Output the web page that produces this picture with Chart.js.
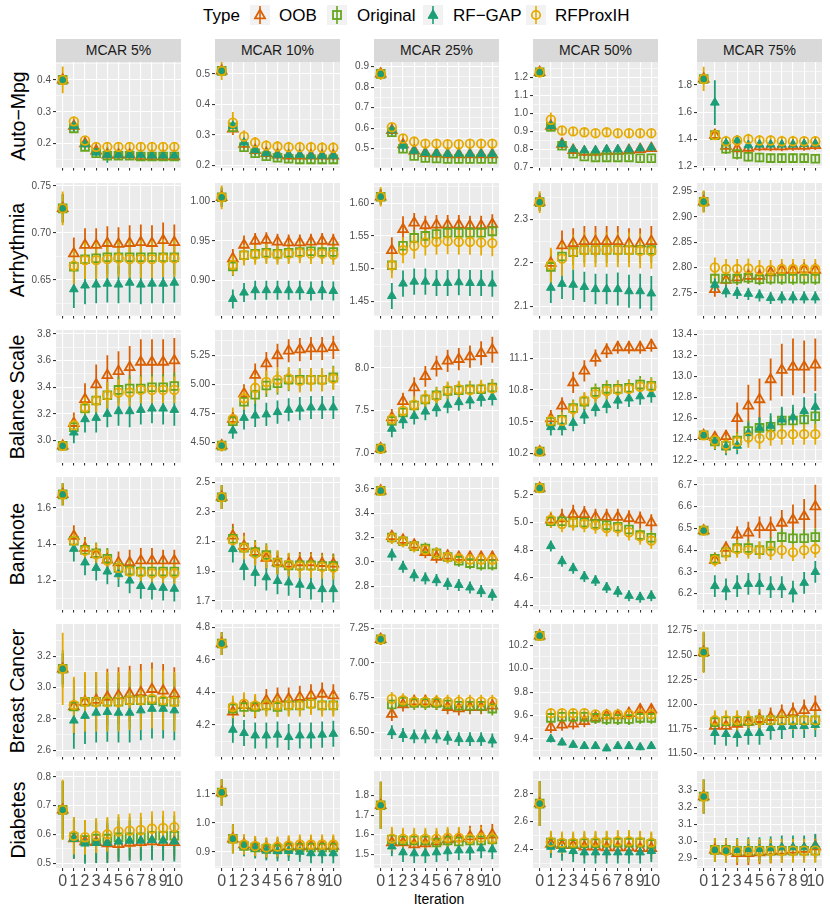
<!DOCTYPE html>
<html>
<head>
<meta charset="utf-8">
<title>Imputation error by iteration</title>
<script src="https://cdn.jsdelivr.net/npm/chart.js@4.4.1/dist/chart.umd.min.js"></script>
<style>
  body { margin: 0; background: #fff; font-family: "Liberation Sans", Arial, sans-serif; }
  #fig { position: relative; width: 830px; height: 913px; overflow: hidden; background: #fff; }
  #fig canvas { position: absolute; }
  .strip { position: absolute; top: 39px; height: 23px; line-height: 23px; background: #D9D9D9; color: #1A1A1A; font-size: 14px; text-align: center; }
  .rowlab { position: absolute; height: 24px; line-height: 24px; font-size: 19.5px; color: #000; text-align: center; white-space: nowrap; transform: rotate(-90deg); }
  .leg { position: absolute; top: 5px; line-height: 21px; font-size: 17px; color: #000; white-space: nowrap; }
  .key { position: absolute; top: 5px; }
  #xtitle { position: absolute; top: 891px; left: 0; width: 878px; text-align: center; font-size: 14px; color: #000; }
</style>
</head>
<body>
<div id="fig">
  <div class="leg" style="left:203px">Type</div>
  <div id="xtitle">Iteration</div>
</div>
<script>
const iterations = [0, 1, 2, 3, 4, 5, 6, 7, 8, 9, 10];
const mcarLevels = ["MCAR 5%", "MCAR 10%", "MCAR 25%", "MCAR 50%", "MCAR 75%"];
const datasetNames = ["Auto\u2212Mpg", "Arrhythmia", "Balance Scale", "Banknote", "Breast Cancer", "Diabetes"];
const seriesNames = ["OOB", "Original", "RF\u2212GAP", "RFProxIH"];

// y tick labels and limits, one entry per MCAR panel
const autoMpgTicks = [["0.2","0.3","0.4"], ["0.2","0.3","0.4","0.5"], ["0.5","0.6","0.7","0.8","0.9"], ["0.7","0.8","0.9","1.0","1.1","1.2"], ["1.2","1.4","1.6","1.8"]];
const autoMpgLimits = [[0.125,0.456], [0.193,0.539], [0.408,0.923], [0.698,1.287], [1.19,1.97]];
const arrhythmiaTicks = [["0.65","0.70","0.75"], ["0.90","0.95","1.00"], ["1.45","1.50","1.55","1.60"], ["2.1","2.2","2.3"], ["2.75","2.80","2.85","2.90","2.95"]];
const arrhythmiaLimits = [[0.612,0.753], [0.856,1.023], [1.428,1.631], [2.079,2.384], [2.705,2.967]];
const balanceTicks = [["3.0","3.2","3.4","3.6","3.8"], ["4.50","4.75","5.00","5.25"], ["7.0","7.5","8.0"], ["10.2","10.5","10.8","11.1"], ["12.2","12.4","12.6","12.8","13.0","13.2","13.4"]];
const balanceLimits = [[2.834,3.83], [4.323,5.47], [6.896,8.44], [10.116,11.364], [12.18,13.44]];
const banknoteTicks = [["1.2","1.4","1.6"], ["1.7","1.9","2.1","2.3","2.5"], ["2.8","3.0","3.2","3.4","3.6"], ["4.4","4.6","4.8","5.0","5.2"], ["6.2","6.3","6.4","6.5","6.6","6.7"]];
const banknoteLimits = [[1.04,1.771], [1.642,2.536], [2.608,3.698], [4.37,5.33], [6.127,6.736]];
const breastTicks = [["2.6","2.8","3.0","3.2"], ["4.2","4.4","4.6","4.8"], ["6.50","6.75","7.00","7.25"], ["9.4","9.6","9.8","10.0","10.2"], ["11.50","11.75","12.00","12.25","12.50","12.75"]];
const breastLimits = [[2.56,3.406], [4.005,4.82], [6.324,7.28], [9.25,10.38], [11.47,12.817]];
const diabetesTicks = [["0.5","0.6","0.7","0.8"], ["0.9","1.0","1.1"], ["1.5","1.6","1.7","1.8"], ["2.4","2.6","2.8"], ["2.9","3.0","3.1","3.2","3.3"]];
const diabetesLimits = [[0.483,0.82], [0.844,1.179], [1.43,1.925], [2.268,2.964], [2.843,3.416]];

// ---- Auto-Mpg: means then half-widths of the bars
const autoMpgOOB = [
  [0.40,0.255,0.20,0.178,0.165,0.165,0.165,0.160,0.160,0.160,0.160],
  [0.51,0.32,0.27,0.25,0.24,0.235,0.232,0.232,0.232,0.232,0.232],
  [0.865,0.59,0.52,0.49,0.478,0.475,0.472,0.472,0.472,0.472,0.472],
  [1.23,0.93,0.83,0.795,0.785,0.785,0.79,0.79,0.795,0.80,0.805],
  [1.845,1.43,1.35,1.33,1.335,1.345,1.345,1.345,1.35,1.35,1.355]];
const autoMpgOriginal = [
  [0.40,0.248,0.19,0.17,0.162,0.162,0.162,0.16,0.16,0.16,0.16],
  [0.51,0.325,0.26,0.24,0.23,0.225,0.222,0.22,0.22,0.22,0.22],
  [0.865,0.58,0.50,0.465,0.455,0.452,0.45,0.45,0.45,0.45,0.45],
  [1.23,0.925,0.82,0.775,0.76,0.755,0.755,0.755,0.755,0.75,0.75],
  [1.845,1.43,1.33,1.29,1.27,1.265,1.26,1.26,1.26,1.26,1.255]];
const autoMpgRFGAP = [
  [0.40,0.255,0.198,0.172,0.165,0.165,0.165,0.165,0.163,0.163,0.163],
  [0.51,0.33,0.275,0.25,0.24,0.235,0.235,0.235,0.232,0.232,0.232],
  [0.865,0.59,0.515,0.49,0.48,0.478,0.475,0.475,0.475,0.475,0.475],
  [1.23,0.93,0.83,0.80,0.795,0.795,0.80,0.80,0.80,0.805,0.81],
  [1.845,1.67,1.37,1.39,1.355,1.36,1.36,1.36,1.36,1.365,1.365]];
const autoMpgRFProxIH = [
  [0.40,0.27,0.21,0.19,0.19,0.19,0.19,0.19,0.19,0.19,0.19],
  [0.51,0.34,0.295,0.275,0.265,0.262,0.26,0.26,0.26,0.258,0.258],
  [0.865,0.605,0.55,0.535,0.525,0.525,0.522,0.522,0.525,0.525,0.525],
  [1.23,0.965,0.905,0.90,0.895,0.89,0.895,0.89,0.89,0.89,0.89],
  [1.845,1.43,1.385,1.39,1.40,1.39,1.39,1.385,1.385,1.385,1.385]];
const autoMpgOOBErr = [
  [0.012,0.015,0.012,0.01,0.01,0.01,0.01,0.01,0.01,0.01,0.01],
  [0.015,0.02,0.015,0.013,0.013,0.013,0.013,0.013,0.013,0.013,0.013],
  [0.015,0.02,0.02,0.02,0.02,0.02,0.02,0.02,0.02,0.02,0.02],
  [0.02,0.025,0.02,0.02,0.02,0.02,0.02,0.02,0.02,0.02,0.02],
  [0.04,0.03,0.035,0.04,0.04,0.035,0.035,0.035,0.035,0.035,0.035]];
const autoMpgOriginalErr = [
  [0.012,0.012,0.012,0.01,0.01,0.01,0.01,0.01,0.01,0.01,0.01],
  [0.015,0.015,0.012,0.012,0.012,0.012,0.012,0.012,0.012,0.012,0.012],
  [0.015,0.015,0.02,0.02,0.02,0.02,0.02,0.02,0.02,0.02,0.02],
  [0.02,0.02,0.02,0.015,0.015,0.015,0.015,0.015,0.015,0.015,0.015],
  [0.04,0.03,0.04,0.04,0.035,0.035,0.035,0.035,0.035,0.03,0.03]];
const autoMpgRFGAPErr = [
  [0.012,0.015,0.012,0.012,0.025,0.015,0.015,0.015,0.012,0.012,0.012],
  [0.015,0.02,0.015,0.015,0.015,0.015,0.015,0.015,0.015,0.015,0.015],
  [0.015,0.02,0.02,0.02,0.02,0.02,0.02,0.02,0.02,0.02,0.02],
  [0.02,0.025,0.02,0.02,0.02,0.02,0.02,0.02,0.02,0.02,0.02],
  [0.04,0.165,0.04,0.04,0.04,0.035,0.035,0.035,0.035,0.035,0.035]];
const autoMpgRFProxIHErr = [
  [0.042,0.015,0.012,0.012,0.012,0.012,0.012,0.012,0.012,0.012,0.012],
  [0.03,0.035,0.02,0.018,0.018,0.018,0.018,0.018,0.018,0.018,0.018],
  [0.03,0.02,0.02,0.02,0.02,0.02,0.02,0.02,0.02,0.02,0.02],
  [0.03,0.04,0.025,0.02,0.02,0.02,0.02,0.02,0.02,0.02,0.02],
  [0.09,0.03,0.04,0.04,0.04,0.04,0.04,0.04,0.04,0.035,0.035]];

// ---- Arrhythmia
const arrhythmiaOOB = [
  [0.726,0.678,0.687,0.687,0.689,0.688,0.689,0.690,0.689,0.692,0.690],
  [1.005,0.928,0.945,0.950,0.951,0.949,0.948,0.948,0.949,0.950,0.949],
  [1.610,1.528,1.560,1.570,1.566,1.567,1.567,1.567,1.566,1.566,1.568],
  [2.340,2.200,2.240,2.245,2.250,2.250,2.250,2.250,2.245,2.245,2.250],
  [2.930,2.757,2.775,2.780,2.783,2.783,2.790,2.795,2.795,2.796,2.795]];
const arrhythmiaOriginal = [
  [0.726,0.664,0.672,0.673,0.674,0.674,0.674,0.674,0.674,0.674,0.674],
  [1.005,0.918,0.932,0.934,0.935,0.934,0.935,0.936,0.937,0.936,0.936],
  [1.610,1.505,1.535,1.547,1.550,1.553,1.555,1.555,1.555,1.555,1.557],
  [2.340,2.191,2.215,2.225,2.230,2.230,2.230,2.230,2.230,2.230,2.230],
  [2.930,2.778,2.778,2.778,2.780,2.777,2.778,2.778,2.778,2.778,2.778]];
const arrhythmiaRFGAP = [
  [0.726,0.640,0.644,0.645,0.646,0.645,0.647,0.645,0.646,0.646,0.647],
  [1.005,0.877,0.885,0.888,0.888,0.888,0.888,0.888,0.887,0.888,0.887],
  [1.610,1.458,1.477,1.480,1.480,1.478,1.478,1.479,1.478,1.478,1.477],
  [2.340,2.143,2.152,2.150,2.145,2.140,2.140,2.140,2.135,2.135,2.130],
  [2.930,2.766,2.753,2.750,2.748,2.745,2.740,2.741,2.741,2.741,2.741]];
const arrhythmiaRFProxIH = [
  [0.726,0.665,0.671,0.671,0.672,0.673,0.672,0.672,0.672,0.673,0.673],
  [1.005,0.920,0.932,0.933,0.934,0.933,0.934,0.935,0.934,0.934,0.933],
  [1.610,1.505,1.528,1.535,1.540,1.541,1.542,1.541,1.541,1.540,1.539],
  [2.340,2.195,2.210,2.225,2.230,2.230,2.230,2.230,2.230,2.228,2.227],
  [2.930,2.800,2.797,2.797,2.798,2.795,2.795,2.797,2.797,2.797,2.797]];
const arrhythmiaOOBErr = [
  [0.015,0.017,0.018,0.018,0.018,0.018,0.019,0.019,0.019,0.019,0.019],
  [0.012,0.012,0.012,0.01,0.01,0.01,0.01,0.01,0.01,0.01,0.01],
  [0.012,0.02,0.02,0.015,0.015,0.015,0.015,0.015,0.015,0.015,0.015],
  [0.02,0.03,0.035,0.035,0.035,0.035,0.035,0.035,0.035,0.035,0.035],
  [0.02,0.015,0.015,0.015,0.015,0.015,0.015,0.015,0.015,0.015,0.015]];
const arrhythmiaOriginalErr = [
  [0.015,0.018,0.018,0.018,0.018,0.018,0.018,0.018,0.018,0.018,0.018],
  [0.012,0.012,0.012,0.012,0.012,0.012,0.012,0.012,0.012,0.012,0.012],
  [0.012,0.012,0.012,0.012,0.012,0.012,0.012,0.012,0.012,0.012,0.012],
  [0.02,0.03,0.03,0.03,0.03,0.03,0.03,0.03,0.03,0.03,0.03],
  [0.02,0.012,0.012,0.012,0.012,0.012,0.012,0.012,0.012,0.012,0.012]];
const arrhythmiaRFGAPErr = [
  [0.015,0.02,0.02,0.02,0.02,0.02,0.021,0.021,0.021,0.021,0.021],
  [0.012,0.012,0.012,0.012,0.012,0.012,0.012,0.012,0.012,0.012,0.012],
  [0.012,0.02,0.02,0.02,0.02,0.02,0.02,0.02,0.02,0.02,0.02],
  [0.02,0.035,0.035,0.035,0.035,0.035,0.035,0.038,0.038,0.04,0.04],
  [0.02,0.012,0.012,0.012,0.012,0.012,0.012,0.012,0.012,0.012,0.012]];
const arrhythmiaRFProxIHErr = [
  [0.018,0.02,0.02,0.02,0.02,0.02,0.02,0.02,0.02,0.02,0.02],
  [0.015,0.013,0.013,0.013,0.013,0.013,0.013,0.013,0.013,0.013,0.013],
  [0.015,0.02,0.02,0.02,0.02,0.02,0.02,0.02,0.02,0.02,0.02],
  [0.025,0.04,0.04,0.04,0.04,0.04,0.04,0.04,0.04,0.04,0.04],
  [0.022,0.02,0.02,0.02,0.02,0.02,0.02,0.02,0.02,0.02,0.02]];

// ---- Balance Scale
const balanceOOB = [
  [2.96,3.13,3.31,3.42,3.49,3.52,3.55,3.59,3.59,3.59,3.60],
  [4.47,4.70,4.92,5.08,5.18,5.25,5.29,5.30,5.31,5.31,5.32],
  [7.06,7.42,7.61,7.77,7.90,8.02,8.08,8.10,8.13,8.17,8.21],
  [10.22,10.53,10.65,10.87,10.98,11.10,11.17,11.20,11.20,11.20,11.22],
  [12.44,12.42,12.43,12.60,12.72,12.78,12.97,13.06,13.09,13.09,13.11]];
const balanceOriginal = [
  [2.96,3.10,3.24,3.30,3.34,3.38,3.39,3.39,3.40,3.40,3.41],
  [4.47,4.68,4.85,4.91,4.99,5.01,5.04,5.04,5.04,5.04,5.06],
  [7.06,7.38,7.48,7.56,7.63,7.68,7.73,7.74,7.75,7.75,7.77],
  [10.22,10.50,10.52,10.63,10.69,10.78,10.81,10.81,10.82,10.85,10.84],
  [12.44,12.38,12.34,12.39,12.48,12.51,12.52,12.58,12.58,12.59,12.62]];
const balanceRFGAP = [
  [2.96,3.06,3.16,3.17,3.20,3.22,3.22,3.23,3.24,3.24,3.23],
  [4.47,4.60,4.71,4.73,4.74,4.76,4.78,4.79,4.80,4.80,4.80],
  [7.06,7.29,7.39,7.44,7.49,7.53,7.57,7.60,7.62,7.65,7.66],
  [10.22,10.45,10.45,10.49,10.56,10.63,10.66,10.70,10.72,10.74,10.76],
  [12.44,12.38,12.33,12.34,12.46,12.51,12.53,12.59,12.61,12.67,12.71]];
const balanceRFProxIH = [
  [2.96,3.115,3.25,3.30,3.34,3.36,3.36,3.38,3.38,3.38,3.38],
  [4.47,4.70,4.88,4.97,5.02,5.04,5.05,5.03,5.04,5.04,5.05],
  [7.06,7.40,7.50,7.57,7.64,7.67,7.74,7.75,7.74,7.76,7.76],
  [10.22,10.51,10.51,10.62,10.70,10.76,10.79,10.80,10.81,10.83,10.83],
  [12.44,12.39,12.35,12.38,12.42,12.41,12.44,12.45,12.45,12.45,12.45]];
const balanceOOBErr = [
  [0.03,0.08,0.12,0.15,0.15,0.15,0.16,0.17,0.17,0.17,0.17],
  [0.04,0.06,0.08,0.1,0.1,0.1,0.1,0.1,0.1,0.1,0.1],
  [0.06,0.1,0.1,0.12,0.12,0.12,0.13,0.13,0.13,0.14,0.15],
  [0.04,0.08,0.08,0.1,0.1,0.08,0.07,0.06,0.06,0.06,0.06],
  [0.04,0.05,0.06,0.15,0.2,0.2,0.2,0.25,0.27,0.25,0.25]];
const balanceOriginalErr = [
  [0.03,0.07,0.08,0.1,0.1,0.1,0.1,0.1,0.1,0.1,0.1],
  [0.04,0.08,0.09,0.1,0.1,0.1,0.1,0.1,0.1,0.1,0.1],
  [0.06,0.1,0.1,0.1,0.1,0.1,0.1,0.1,0.1,0.1,0.1],
  [0.04,0.08,0.08,0.08,0.08,0.08,0.08,0.08,0.08,0.08,0.08],
  [0.04,0.08,0.08,0.08,0.1,0.1,0.1,0.12,0.12,0.12,0.12]];
const balanceRFGAPErr = [
  [0.03,0.08,0.1,0.11,0.1,0.11,0.12,0.11,0.11,0.12,0.12],
  [0.04,0.07,0.1,0.1,0.1,0.1,0.1,0.1,0.1,0.1,0.1],
  [0.06,0.1,0.1,0.1,0.1,0.1,0.1,0.1,0.1,0.1,0.1],
  [0.04,0.08,0.08,0.08,0.08,0.08,0.08,0.08,0.08,0.08,0.08],
  [0.04,0.08,0.08,0.08,0.1,0.1,0.12,0.12,0.12,0.13,0.13]];
const balanceRFProxIHErr = [
  [0.03,0.07,0.08,0.09,0.1,0.1,0.1,0.1,0.1,0.1,0.1],
  [0.05,0.1,0.1,0.11,0.1,0.11,0.1,0.1,0.1,0.1,0.1],
  [0.06,0.1,0.1,0.1,0.1,0.1,0.1,0.1,0.1,0.1,0.1],
  [0.04,0.08,0.08,0.08,0.08,0.08,0.08,0.08,0.08,0.08,0.08],
  [0.04,0.08,0.08,0.08,0.1,0.1,0.1,0.1,0.1,0.1,0.1]];

// ---- Banknote
const banknoteOOB = [
  [1.675,1.445,1.38,1.345,1.315,1.30,1.30,1.31,1.31,1.31,1.31],
  [2.40,2.14,2.07,2.03,1.99,1.96,1.95,1.96,1.96,1.955,1.95],
  [3.585,3.21,3.18,3.14,3.08,3.04,3.05,3.04,3.04,3.04,3.04],
  [5.25,5.02,5.03,5.06,5.06,5.04,5.04,5.04,5.03,5.02,5.00],
  [6.49,6.355,6.41,6.47,6.48,6.505,6.505,6.525,6.54,6.555,6.60]];
const banknoteOriginal = [
  [1.675,1.42,1.37,1.35,1.32,1.27,1.255,1.25,1.25,1.25,1.25],
  [2.40,2.12,2.06,2.03,2.01,1.96,1.94,1.94,1.94,1.935,1.935],
  [3.585,3.20,3.17,3.13,3.11,3.07,3.04,3.01,2.99,2.98,2.98],
  [5.25,5.01,5.01,5.00,5.00,4.99,4.98,4.97,4.95,4.91,4.89],
  [6.49,6.36,6.39,6.41,6.41,6.40,6.42,6.46,6.455,6.455,6.46]];
const banknoteRFGAP = [
  [1.675,1.375,1.30,1.27,1.25,1.235,1.20,1.17,1.165,1.16,1.155],
  [2.40,2.05,1.93,1.89,1.86,1.835,1.825,1.81,1.80,1.78,1.78],
  [3.585,3.06,2.96,2.89,2.865,2.85,2.82,2.81,2.79,2.76,2.73],
  [5.25,4.83,4.72,4.67,4.61,4.58,4.53,4.50,4.47,4.46,4.47],
  [6.49,6.235,6.22,6.235,6.245,6.245,6.23,6.23,6.21,6.25,6.30]];
const banknoteRFProxIH = [
  [1.675,1.42,1.365,1.345,1.31,1.27,1.25,1.245,1.24,1.24,1.24],
  [2.40,2.11,2.06,2.02,2.00,1.96,1.945,1.935,1.935,1.93,1.925],
  [3.585,3.20,3.17,3.13,3.10,3.07,3.04,3.03,3.02,3.02,3.02],
  [5.25,5.02,4.99,5.00,4.99,4.98,4.96,4.96,4.93,4.90,4.87],
  [6.49,6.355,6.39,6.405,6.40,6.40,6.395,6.40,6.39,6.40,6.405]];
const banknoteOOBErr = [
  [0.06,0.06,0.06,0.06,0.06,0.06,0.07,0.07,0.07,0.06,0.06],
  [0.08,0.08,0.09,0.08,0.08,0.07,0.07,0.07,0.07,0.07,0.07],
  [0.03,0.04,0.04,0.04,0.05,0.05,0.05,0.05,0.05,0.05,0.05],
  [0.03,0.05,0.07,0.07,0.06,0.06,0.06,0.06,0.06,0.06,0.06],
  [0.02,0.02,0.03,0.04,0.05,0.05,0.05,0.06,0.07,0.08,0.1]];
const banknoteOriginalErr = [
  [0.06,0.06,0.06,0.06,0.06,0.06,0.06,0.06,0.06,0.06,0.06],
  [0.08,0.08,0.08,0.08,0.08,0.08,0.08,0.08,0.08,0.08,0.08],
  [0.03,0.05,0.05,0.05,0.05,0.05,0.05,0.05,0.05,0.05,0.05],
  [0.03,0.05,0.05,0.05,0.05,0.05,0.05,0.05,0.05,0.05,0.05],
  [0.02,0.03,0.03,0.04,0.04,0.04,0.04,0.04,0.04,0.04,0.04]];
const banknoteRFGAPErr = [
  [0.06,0.07,0.07,0.07,0.07,0.07,0.07,0.07,0.07,0.07,0.07],
  [0.08,0.09,0.09,0.09,0.09,0.09,0.09,0.09,0.09,0.09,0.09],
  [0.03,0.05,0.05,0.05,0.05,0.05,0.05,0.05,0.05,0.05,0.05],
  [0.03,0.04,0.04,0.04,0.04,0.04,0.04,0.04,0.04,0.04,0.04],
  [0.02,0.05,0.05,0.05,0.05,0.05,0.05,0.05,0.05,0.05,0.05]];
const banknoteRFProxIHErr = [
  [0.06,0.06,0.06,0.06,0.06,0.06,0.06,0.06,0.06,0.06,0.06],
  [0.08,0.08,0.08,0.08,0.08,0.08,0.08,0.08,0.08,0.08,0.08],
  [0.03,0.05,0.05,0.05,0.05,0.05,0.05,0.05,0.05,0.05,0.05],
  [0.03,0.06,0.06,0.06,0.06,0.06,0.06,0.06,0.06,0.06,0.06],
  [0.02,0.03,0.04,0.04,0.04,0.04,0.04,0.04,0.04,0.04,0.04]];

// ---- Breast Cancer
const breastOOB = [
  [3.12,2.88,2.91,2.92,2.94,2.95,2.96,2.97,2.99,2.98,2.96],
  [4.70,4.28,4.32,4.31,4.35,4.36,4.36,4.37,4.38,4.39,4.38],
  [7.17,6.63,6.70,6.72,6.72,6.71,6.68,6.67,6.68,6.68,6.69],
  [10.28,9.50,9.52,9.53,9.55,9.58,9.60,9.60,9.62,9.65,9.65],
  [12.53,11.78,11.78,11.80,11.82,11.85,11.87,11.90,11.92,11.94,11.97]];
const breastOriginal = [
  [3.12,2.88,2.91,2.91,2.91,2.91,2.92,2.92,2.92,2.91,2.91],
  [4.70,4.30,4.31,4.31,4.32,4.31,4.32,4.32,4.33,4.32,4.32],
  [7.17,6.70,6.72,6.71,6.71,6.71,6.70,6.69,6.69,6.69,6.67],
  [10.28,9.58,9.59,9.59,9.59,9.58,9.57,9.57,9.57,9.58,9.58],
  [12.53,11.82,11.83,11.83,11.83,11.84,11.84,11.84,11.84,11.84,11.84]];
const breastRFGAP = [
  [3.12,2.79,2.82,2.84,2.845,2.84,2.84,2.855,2.865,2.865,2.855],
  [4.70,4.17,4.15,4.135,4.135,4.14,4.125,4.135,4.135,4.14,4.145],
  [7.17,6.50,6.48,6.47,6.47,6.47,6.46,6.45,6.45,6.45,6.44],
  [10.28,9.40,9.37,9.35,9.34,9.34,9.32,9.34,9.34,9.33,9.34],
  [12.53,11.71,11.70,11.69,11.71,11.71,11.76,11.77,11.78,11.78,11.79]];
const breastRFProxIH = [
  [3.12,2.89,2.91,2.91,2.91,2.91,2.92,2.92,2.93,2.92,2.91],
  [4.70,4.31,4.33,4.32,4.32,4.32,4.32,4.32,4.33,4.32,4.32],
  [7.17,6.74,6.73,6.72,6.72,6.72,6.72,6.72,6.72,6.72,6.72],
  [10.28,9.62,9.62,9.62,9.62,9.61,9.61,9.61,9.61,9.61,9.61],
  [12.53,11.84,11.84,11.84,11.84,11.84,11.84,11.84,11.84,11.84,11.84]];
const breastOOBErr = [
  [0.1,0.17,0.18,0.18,0.18,0.18,0.18,0.18,0.17,0.17,0.17],
  [0.07,0.07,0.07,0.07,0.07,0.07,0.07,0.07,0.07,0.07,0.07],
  [0.04,0.05,0.05,0.05,0.05,0.05,0.05,0.05,0.05,0.05,0.05],
  [0.04,0.05,0.05,0.05,0.05,0.05,0.05,0.05,0.05,0.05,0.05],
  [0.2,0.1,0.1,0.1,0.1,0.1,0.1,0.1,0.1,0.11,0.12]];
const breastOriginalErr = [
  [0.12,0.18,0.18,0.18,0.18,0.18,0.18,0.18,0.18,0.18,0.18],
  [0.07,0.06,0.06,0.06,0.06,0.06,0.06,0.06,0.06,0.06,0.06],
  [0.04,0.05,0.05,0.05,0.05,0.05,0.05,0.05,0.05,0.05,0.05],
  [0.04,0.05,0.05,0.05,0.05,0.05,0.05,0.05,0.05,0.05,0.05],
  [0.2,0.1,0.1,0.1,0.1,0.1,0.1,0.1,0.1,0.1,0.1]];
const breastRFGAPErr = [
  [0.1,0.18,0.18,0.19,0.19,0.19,0.19,0.19,0.19,0.19,0.19],
  [0.07,0.08,0.08,0.08,0.08,0.08,0.08,0.08,0.08,0.08,0.08],
  [0.04,0.05,0.05,0.05,0.05,0.05,0.05,0.05,0.05,0.05,0.05],
  [0.04,0.03,0.025,0.025,0.025,0.025,0.025,0.025,0.025,0.025,0.025],
  [0.2,0.12,0.12,0.12,0.12,0.12,0.12,0.12,0.12,0.12,0.12]];
const breastRFProxIHErr = [
  [0.23,0.18,0.19,0.19,0.19,0.19,0.19,0.19,0.19,0.19,0.19],
  [0.07,0.07,0.07,0.07,0.07,0.07,0.07,0.07,0.07,0.07,0.07],
  [0.04,0.05,0.05,0.05,0.05,0.05,0.05,0.05,0.05,0.05,0.05],
  [0.04,0.04,0.04,0.04,0.04,0.04,0.04,0.04,0.04,0.04,0.04],
  [0.21,0.1,0.1,0.1,0.1,0.1,0.1,0.1,0.1,0.1,0.1]];

// ---- Diabetes
const diabetesOOB = [
  [0.685,0.585,0.575,0.572,0.568,0.565,0.57,0.572,0.575,0.572,0.572],
  [1.105,0.945,0.925,0.918,0.912,0.915,0.918,0.918,0.92,0.92,0.92],
  [1.75,1.56,1.56,1.55,1.555,1.565,1.575,1.58,1.59,1.595,1.60],
  [2.73,2.44,2.43,2.43,2.42,2.42,2.415,2.415,2.415,2.41,2.41],
  [3.265,2.95,2.945,2.93,2.93,2.935,2.94,2.945,2.95,2.955,2.97]];
const diabetesOriginal = [
  [0.685,0.59,0.58,0.585,0.585,0.59,0.59,0.59,0.595,0.595,0.595],
  [1.105,0.945,0.92,0.915,0.91,0.91,0.915,0.915,0.915,0.915,0.915],
  [1.75,1.575,1.57,1.57,1.57,1.56,1.57,1.565,1.57,1.57,1.575],
  [2.73,2.45,2.44,2.44,2.445,2.445,2.45,2.45,2.45,2.45,2.44],
  [3.265,2.95,2.95,2.945,2.945,2.945,2.945,2.945,2.945,2.945,2.945]];
const diabetesRFGAP = [
  [0.685,0.585,0.568,0.57,0.57,0.575,0.578,0.578,0.58,0.578,0.575],
  [1.105,0.945,0.92,0.912,0.905,0.902,0.903,0.90,0.895,0.895,0.895],
  [1.75,1.54,1.51,1.505,1.505,1.51,1.515,1.52,1.52,1.53,1.525],
  [2.73,2.42,2.40,2.39,2.38,2.38,2.38,2.38,2.38,2.38,2.39],
  [3.265,2.95,2.945,2.95,2.955,2.955,2.96,2.965,2.965,2.965,2.975]];
const diabetesRFProxIH = [
  [0.685,0.595,0.59,0.595,0.60,0.61,0.613,0.615,0.62,0.622,0.625],
  [1.105,0.945,0.925,0.92,0.915,0.918,0.922,0.925,0.925,0.925,0.925],
  [1.75,1.58,1.58,1.58,1.58,1.58,1.585,1.585,1.58,1.585,1.58],
  [2.73,2.455,2.45,2.45,2.455,2.455,2.455,2.46,2.46,2.455,2.45],
  [3.265,2.95,2.945,2.945,2.945,2.945,2.945,2.945,2.945,2.945,2.945]];
const diabetesOOBErr = [
  [0.1,0.07,0.07,0.07,0.065,0.06,0.06,0.06,0.06,0.06,0.06],
  [0.045,0.05,0.035,0.035,0.035,0.035,0.035,0.035,0.035,0.035,0.035],
  [0.12,0.055,0.055,0.055,0.055,0.055,0.055,0.055,0.055,0.055,0.055],
  [0.16,0.08,0.08,0.08,0.08,0.08,0.08,0.08,0.08,0.08,0.08],
  [0.1,0.07,0.07,0.07,0.07,0.07,0.07,0.07,0.07,0.07,0.07]];
const diabetesOriginalErr = [
  [0.1,0.07,0.07,0.07,0.07,0.07,0.07,0.07,0.07,0.07,0.07],
  [0.045,0.05,0.035,0.035,0.035,0.035,0.035,0.035,0.035,0.035,0.035],
  [0.12,0.055,0.055,0.055,0.055,0.055,0.055,0.055,0.055,0.055,0.055],
  [0.16,0.08,0.08,0.08,0.08,0.08,0.08,0.08,0.08,0.08,0.08],
  [0.1,0.07,0.07,0.07,0.07,0.07,0.07,0.07,0.07,0.07,0.07]];
const diabetesRFGAPErr = [
  [0.1,0.07,0.07,0.07,0.07,0.07,0.07,0.07,0.07,0.07,0.07],
  [0.045,0.05,0.035,0.035,0.035,0.035,0.035,0.035,0.035,0.035,0.035],
  [0.12,0.05,0.05,0.05,0.05,0.05,0.05,0.05,0.05,0.05,0.05],
  [0.16,0.08,0.08,0.08,0.08,0.08,0.08,0.08,0.08,0.08,0.08],
  [0.1,0.07,0.07,0.07,0.07,0.07,0.07,0.07,0.07,0.07,0.07]];
const diabetesRFProxIHErr = [
  [0.105,0.065,0.06,0.06,0.06,0.06,0.06,0.06,0.06,0.06,0.055],
  [0.045,0.05,0.035,0.035,0.035,0.035,0.035,0.035,0.035,0.035,0.035],
  [0.12,0.06,0.055,0.055,0.055,0.055,0.055,0.055,0.055,0.055,0.055],
  [0.16,0.08,0.08,0.08,0.08,0.08,0.08,0.08,0.08,0.08,0.08],
  [0.1,0.07,0.07,0.07,0.07,0.07,0.07,0.07,0.07,0.07,0.07]];

// lookup tables built from the arrays above (row = dataset, then series)
const yTickLabels = [autoMpgTicks, arrhythmiaTicks, balanceTicks, banknoteTicks, breastTicks, diabetesTicks];
const yLimits = [autoMpgLimits, arrhythmiaLimits, balanceLimits, banknoteLimits, breastLimits, diabetesLimits];
const means = [
  [autoMpgOOB, autoMpgOriginal, autoMpgRFGAP, autoMpgRFProxIH],
  [arrhythmiaOOB, arrhythmiaOriginal, arrhythmiaRFGAP, arrhythmiaRFProxIH],
  [balanceOOB, balanceOriginal, balanceRFGAP, balanceRFProxIH],
  [banknoteOOB, banknoteOriginal, banknoteRFGAP, banknoteRFProxIH],
  [breastOOB, breastOriginal, breastRFGAP, breastRFProxIH],
  [diabetesOOB, diabetesOriginal, diabetesRFGAP, diabetesRFProxIH]];
const errs = [
  [autoMpgOOBErr, autoMpgOriginalErr, autoMpgRFGAPErr, autoMpgRFProxIHErr],
  [arrhythmiaOOBErr, arrhythmiaOriginalErr, arrhythmiaRFGAPErr, arrhythmiaRFProxIHErr],
  [balanceOOBErr, balanceOriginalErr, balanceRFGAPErr, balanceRFProxIHErr],
  [banknoteOOBErr, banknoteOriginalErr, banknoteRFGAPErr, banknoteRFProxIHErr],
  [breastOOBErr, breastOriginalErr, breastRFGAPErr, breastRFProxIHErr],
  [diabetesOOBErr, diabetesOriginalErr, diabetesRFGAPErr, diabetesRFProxIHErr]];

// layout
const AXIS_W = 42, PANEL_W = 125, PAD_T = 8, PAD_R = 8;
const colLefts = [56, 215, 374, 533, 697];
const rowTops = [62, 183, 330, 477, 624, 771];
const rowHeights = [107, 134, 134, 134, 134, 97];
const FONT = '"Liberation Sans", Arial, sans-serif';

// narrow face for the iteration labels if the machine has one
function hasFont(name) {
  const c = document.createElement('canvas').getContext('2d');
  c.font = '40px monospace';
  const a = c.measureText('0123456789').width;
  c.font = '40px "' + name + '", monospace';
  return c.measureText('0123456789').width !== a;
}
const xLabelFont = hasFont('Liberation Sans Narrow')
  ? { family: '"Liberation Sans Narrow", ' + FONT, size: 18.5 }
  : { family: FONT, size: 16 };

const seriesStyle = [
  { color: '#D95F02', shape: 'triangle', r: 5.6, fill: 'rgba(0,0,0,0)', bw: 1.8 },
  { color: '#66A61E', shape: 'rect', r: 5.5, fill: 'rgba(0,0,0,0)', bw: 1.8 },
  { color: '#1B9E77', shape: 'triangle', r: 5.0, fill: '#1B9E77', bw: 1 },
  { color: '#E6AB02', shape: 'circle', r: 4.3, fill: 'rgba(0,0,0,0)', bw: 1.8 }
];

const fig = document.getElementById('fig');

// grey panel background
const panelBg = {
  id: 'panelBg',
  beforeDraw(chart) {
    const a = chart.chartArea, ctx = chart.ctx;
    ctx.save();
    ctx.fillStyle = '#EBEBEB';
    ctx.fillRect(a.left, a.top, a.right - a.left, a.bottom - a.top);
    ctx.restore();
  }
};

// vertical ranges under the points
const errorBars = {
  id: 'errorBars',
  beforeDatasetsDraw(chart) {
    const { ctx, chartArea: a } = chart;
    const x = chart.scales.x, y = chart.scales.y;
    ctx.save();
    ctx.beginPath();
    ctx.rect(a.left, a.top, a.right - a.left, a.bottom - a.top);
    ctx.clip();
    ctx.lineWidth = 1.8;
    chart.data.datasets.forEach(ds => {
      ctx.strokeStyle = ds.barColor;
      ds.data.forEach(p => {
        const px = x.getPixelForValue(p.x);
        ctx.beginPath();
        ctx.moveTo(px, y.getPixelForValue(p.y - p.e));
        ctx.lineTo(px, y.getPixelForValue(p.y + p.e));
        ctx.stroke();
      });
    });
    ctx.restore();
  }
};

function buildPanel(r, c) {
  const last = r === datasetNames.length - 1;
  const xH = last ? 28 : 6;
  const w = AXIS_W + PANEL_W + PAD_R;
  const h = PAD_T + rowHeights[r] + xH;
  const cv = document.createElement('canvas');
  cv.width = w;
  cv.height = h;
  cv.style.left = (colLefts[c] - AXIS_W) + 'px';
  cv.style.top = (rowTops[r] - PAD_T) + 'px';
  fig.appendChild(cv);

  const labels = yTickLabels[r][c];
  const [lo, hi] = yLimits[r][c];
  const major = labels.map(Number);
  const step = major[1] - major[0];
  const yTicks = major.map((v, i) => ({ value: v, txt: labels[i], minor: false }));
  for (let k = -1; k < major.length; k++) {
    const v = major[0] + (k + 0.5) * step;
    if (v >= lo && v <= hi) yTicks.push({ value: v, txt: '', minor: true });
  }
  yTicks.sort((a, b) => a.value - b.value);

  const datasets = seriesNames.map((name, s) => ({
    label: name,
    order: seriesNames.length - 1 - s,
    barColor: seriesStyle[s].color,
    data: iterations.map((it, i) => ({ x: it, y: means[r][s][c][i], e: errs[r][s][c][i] })),
    pointStyle: seriesStyle[s].shape,
    pointRadius: seriesStyle[s].r,
    pointBorderWidth: seriesStyle[s].bw,
    pointBorderColor: seriesStyle[s].color,
    pointBackgroundColor: seriesStyle[s].fill,
    showLine: false
  }));

  new Chart(cv, {
    type: 'scatter',
    data: { datasets },
    plugins: [panelBg, errorBars],
    options: {
      responsive: false,
      animation: false,
      events: [],
      layout: { padding: { top: PAD_T, right: PAD_R, left: 0, bottom: 0 } },
      plugins: { legend: { display: false }, tooltip: { enabled: false } },
      scales: {
        x: {
          type: 'linear', min: -0.6, max: 10.6,
          afterBuildTicks: s => { s.ticks = iterations.map(v => ({ value: v })); },
          afterFit: s => { s.height = xH; s.paddingLeft = 0; s.paddingRight = 0; },
          border: { display: false },
          grid: { color: '#FFFFFF', lineWidth: 1.1, drawTicks: true, tickLength: 3, tickColor: '#333333' },
          ticks: {
            autoSkip: false, maxRotation: 0, minRotation: 0, padding: 1,
            color: '#4D4D4D', font: last ? xLabelFont : { family: FONT, size: 6 },
            callback: v => last ? String(v) : ''
          }
        },
        y: {
          type: 'linear', min: lo, max: hi,
          afterBuildTicks: s => { s.ticks = yTicks.map(t => ({ ...t })); },
          afterFit: s => { s.width = AXIS_W; s.paddingTop = 0; s.paddingBottom = 0; },
          border: { display: false },
          grid: {
            color: '#FFFFFF',
            lineWidth: ctx => (ctx.tick && ctx.tick.minor) ? 0.55 : 1.1,
            drawTicks: true, tickLength: 3,
            tickColor: ctx => (ctx.tick && ctx.tick.minor) ? 'rgba(0,0,0,0)' : '#333333'
          },
          ticks: {
            autoSkip: false, padding: 2, color: '#4D4D4D',
            font: { family: FONT, size: 10 },
            callback: (v, i, ticks) => ticks[i].txt
          }
        }
      }
    }
  });
}

// strips
mcarLevels.forEach((lvl, c) => {
  const d = document.createElement('div');
  d.className = 'strip';
  d.style.left = colLefts[c] + 'px';
  d.style.width = PANEL_W + 'px';
  d.textContent = lvl;
  fig.appendChild(d);
});

// row labels
datasetNames.forEach((name, r) => {
  const d = document.createElement('div');
  d.className = 'rowlab';
  const h = rowHeights[r];
  d.style.width = (h + 60) + 'px';
  d.style.left = (17 - (h + 60) / 2) + 'px';
  d.style.top = (rowTops[r] + h / 2 - 12) + 'px';
  d.textContent = name;
  fig.appendChild(d);
});

// legend keys
const keyLefts = [250, 327, 423, 526];
const textLefts = [279, 357, 453, 555];
seriesNames.forEach((name, s) => {
  const st = seriesStyle[s];
  let sym = '';
  if (st.shape === 'triangle') {
    sym = `<polygon points="10,4.6 15,13.3 5,13.3" fill="${st.fill === '#1B9E77' ? st.color : 'none'}" stroke="${st.color}" stroke-width="${st.bw}"/>`;
  } else if (st.shape === 'rect') {
    sym = `<rect x="6" y="6" width="8" height="8" fill="none" stroke="${st.color}" stroke-width="${st.bw}"/>`;
  } else {
    sym = `<circle cx="10" cy="10" r="4.2" fill="none" stroke="${st.color}" stroke-width="${st.bw}"/>`;
  }
  const k = document.createElement('div');
  k.className = 'key';
  k.style.left = keyLefts[s] + 'px';
  k.innerHTML = `<svg width="20" height="20"><rect width="20" height="20" fill="#F2F2F2"/>` +
    `<line x1="10" y1="1" x2="10" y2="19" stroke="${st.color}" stroke-width="1.6"/>${sym}</svg>`;
  fig.appendChild(k);
  const t = document.createElement('div');
  t.className = 'leg';
  t.style.left = textLefts[s] + 'px';
  t.textContent = name;
  fig.appendChild(t);
});

for (let r = 0; r < datasetNames.length; r++) {
  for (let c = 0; c < mcarLevels.length; c++) buildPanel(r, c);
}
</script>
</body>
</html>
